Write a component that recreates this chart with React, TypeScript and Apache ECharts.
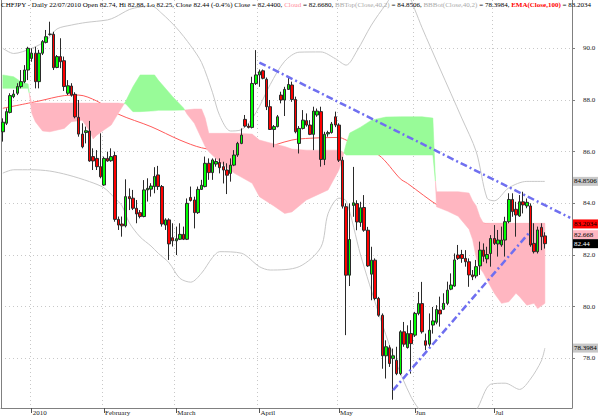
import React, { useEffect, useRef } from "react";
import * as echarts from "echarts";

// ---- calendar (trading days shown) ----
const dec09 = [21, 22, 23, 24, 28, 29, 30, 31];
const jan10 = [4, 5, 6, 7, 8, 11, 12, 13, 14, 15, 18, 19, 20, 21, 22, 25, 26, 27, 28, 29];
const feb10 = [1, 2, 3, 4, 5, 8, 9, 10, 11, 12, 15, 16, 17, 18, 19, 22, 23, 24, 25, 26];
const mar10 = [1, 2, 3, 4, 5, 8, 9, 10, 11, 12, 15, 16, 17, 18, 19, 22, 23, 24, 25, 26, 29, 30, 31];
const apr10 = [1, 2, 5, 6, 7, 8, 9, 12, 13, 14, 15, 16, 19, 20, 21, 22, 23, 26, 27, 28, 29, 30];
const may10 = [3, 4, 5, 6, 7, 10, 11, 12, 13, 14, 17, 18, 19, 20, 21, 24, 25, 26, 27, 28, 31];
const jun10 = [1, 2, 3, 4, 7, 8, 9, 10, 11, 14, 15, 16, 17, 18, 21, 22, 23, 24, 25, 28, 29, 30];
const jul10 = [1, 2, 6, 7, 8, 9, 12, 13, 14, 15, 16, 19, 20, 21, 22];
const monthKeys = ["2009-12", "2010-01", "2010-02", "2010-03", "2010-04", "2010-05", "2010-06", "2010-07"];
const monthDays = [dec09, jan10, feb10, mar10, apr10, may10, jun10, jul10];
const monthTickLabels = ["", "2010", "February", "March", "April", "May", "Jun", "Jul"];
const padSlots = 7;

// ---- candles: [open, close, low, high] ----
const ohlc: number[][] = [
  [86.77, 87.14, 86.39, 87.29], [87.10, 87.55, 87.03, 87.68], [87.52, 88.17, 87.48, 88.26], [88.13, 88.23, 88.07, 88.39],
  [88.26, 88.52, 88.19, 88.65], [88.52, 88.71, 88.45, 89.16], [88.71, 89.16, 88.65, 89.35], [89.16, 90.00, 88.77, 90.06],
  [89.61, 89.81, 89.48, 90.00], [89.81, 88.71, 88.45, 90.06], [88.71, 89.81, 88.45, 89.94], [89.81, 90.26, 89.74, 90.32],
  [90.23, 90.45, 90.19, 90.71], [90.54, 90.55, 90.49, 91.03], [90.54, 89.25, 89.16, 90.64], [89.26, 89.68, 89.23, 89.74],
  [89.68, 89.48, 89.23, 90.39], [89.52, 88.52, 88.35, 89.68], [88.26, 88.55, 88.19, 88.77], [88.54, 88.19, 88.13, 88.65],
  [88.22, 87.35, 87.29, 88.30], [87.33, 86.68, 86.58, 88.00], [86.68, 86.19, 86.13, 87.10], [86.74, 86.81, 86.32, 86.97],
  [86.80, 85.64, 85.61, 87.19], [85.81, 85.64, 85.29, 86.13], [85.74, 85.42, 85.29, 86.06], [85.42, 85.03, 84.97, 86.71],
  [84.71, 85.74, 84.68, 85.81], [85.74, 85.64, 85.61, 86.00], [85.65, 85.81, 85.61, 86.13], [85.85, 83.38, 83.29, 86.00],
  [83.38, 83.16, 82.97, 83.49], [83.20, 83.13, 82.71, 83.49], [83.13, 84.26, 83.07, 84.93], [84.26, 84.18, 83.74, 84.58],
  [84.20, 83.81, 83.74, 84.52], [83.81, 83.59, 83.23, 84.13], [83.64, 83.49, 83.42, 83.74], [83.49, 84.52, 83.46, 84.90],
  [84.52, 84.58, 84.07, 84.97], [84.55, 84.67, 84.26, 84.78], [84.65, 85.04, 84.39, 85.40], [85.10, 84.65, 84.52, 85.45],
  [84.65, 83.20, 83.10, 84.71], [83.16, 83.36, 82.97, 83.42], [83.36, 82.43, 81.81, 83.42], [82.67, 82.55, 82.33, 83.23],
  [82.55, 82.63, 82.00, 83.10], [82.61, 82.80, 82.58, 83.23], [82.80, 82.61, 82.58, 83.10], [82.61, 84.00, 82.58, 84.19],
  [84.23, 84.11, 84.07, 84.65], [84.13, 83.64, 83.03, 84.26], [83.64, 84.54, 83.59, 84.65], [84.54, 84.70, 84.52, 84.91],
  [84.65, 85.55, 84.62, 85.81], [85.55, 85.19, 84.91, 85.74], [85.19, 85.68, 84.91, 85.74], [85.52, 85.62, 85.42, 85.74],
  [85.58, 85.38, 85.16, 85.74], [85.42, 85.29, 84.77, 85.61], [85.29, 85.09, 84.36, 85.55], [85.16, 85.48, 84.84, 85.74],
  [85.48, 85.87, 85.44, 86.06], [85.87, 86.32, 85.80, 86.38], [86.32, 86.64, 86.29, 86.90], [87.25, 86.99, 86.94, 87.42],
  [86.99, 86.94, 86.90, 87.09], [86.94, 88.64, 86.90, 88.90], [88.64, 88.97, 88.58, 89.93], [88.97, 89.09, 88.51, 89.18],
  [89.13, 88.84, 88.80, 89.18], [88.80, 87.74, 87.61, 88.87], [87.74, 86.86, 86.84, 88.00], [86.86, 86.97, 86.17, 87.03],
  [86.97, 87.35, 86.94, 87.42], [88.19, 88.00, 87.87, 88.32], [88.00, 88.41, 87.38, 88.51], [88.41, 88.60, 88.39, 88.90],
  [88.58, 88.02, 87.93, 88.71], [88.02, 86.77, 86.71, 88.13], [86.32, 86.90, 85.93, 86.99], [86.90, 87.22, 86.86, 87.61],
  [87.20, 87.03, 86.97, 87.48], [87.03, 86.67, 86.64, 87.22], [86.67, 87.57, 86.06, 87.74], [87.42, 87.57, 87.35, 87.67],
  [87.55, 85.70, 85.42, 87.74], [85.70, 86.67, 85.48, 86.77], [86.69, 86.74, 86.58, 86.81], [86.74, 87.07, 86.70, 87.15],
  [87.35, 87.03, 86.95, 87.55], [87.03, 85.67, 85.60, 87.10], [85.67, 83.89, 83.80, 85.80], [83.87, 81.22, 78.90, 84.00],
  [81.22, 82.60, 80.80, 84.00], [83.92, 84.02, 83.48, 85.41], [83.99, 83.28, 82.96, 84.12], [83.26, 83.83, 83.09, 84.06],
  [83.84, 82.96, 82.90, 84.32], [82.96, 81.58, 81.54, 83.09], [81.26, 81.80, 80.25, 82.32], [81.80, 80.32, 80.25, 81.87],
  [80.32, 79.67, 79.61, 80.38], [79.67, 78.10, 77.60, 79.74], [78.10, 78.45, 77.22, 78.70], [78.41, 77.80, 77.67, 78.51],
  [78.00, 78.10, 76.40, 78.38], [77.93, 77.41, 77.35, 78.45], [77.41, 79.03, 77.35, 79.09], [79.03, 78.55, 78.45, 79.41],
  [78.42, 78.96, 78.38, 79.28], [78.96, 78.57, 77.41, 79.48], [78.90, 79.74, 78.83, 79.80], [79.74, 80.12, 79.67, 80.57],
  [80.12, 79.03, 78.96, 80.96], [78.68, 78.51, 78.32, 78.96], [78.55, 79.09, 78.45, 79.74], [79.29, 79.45, 78.96, 79.99],
  [79.40, 79.89, 79.32, 80.06], [79.87, 79.72, 79.23, 80.39], [79.90, 80.13, 79.87, 80.52], [80.13, 80.64, 80.06, 80.97],
  [80.68, 80.84, 80.64, 81.29], [80.80, 81.81, 80.77, 82.06], [82.00, 81.87, 81.81, 82.39], [82.02, 81.87, 81.70, 82.20],
  [81.87, 81.74, 81.55, 82.19], [81.74, 81.23, 80.77, 81.87], [81.23, 81.16, 81.03, 81.42], [81.19, 81.55, 81.10, 81.81],
  [81.58, 82.19, 81.23, 82.52], [82.19, 81.95, 81.74, 82.45], [81.85, 82.02, 81.68, 82.32], [82.06, 82.64, 81.55, 82.77],
  [82.64, 82.45, 82.39, 83.16], [82.43, 82.58, 81.94, 82.97], [82.39, 82.58, 82.32, 83.10], [82.58, 83.29, 81.94, 83.48],
  [83.29, 84.15, 83.23, 84.39], [84.15, 83.68, 83.48, 84.39], [83.77, 83.55, 82.71, 84.06], [83.51, 84.06, 83.48, 84.32],
  [84.06, 83.94, 83.61, 84.45], [83.90, 84.04, 83.81, 84.19], [83.90, 82.39, 82.32, 84.00], [82.45, 82.13, 82.06, 83.23],
  [82.13, 82.97, 82.06, 83.10], [83.07, 82.71, 82.19, 83.23], [82.74, 82.44, 82.25, 82.88],
];

// ---- Ichimoku cloud (span A / span B read at sample bars) ----
const cloudIdx = [0, 3, 5, 7, 8, 9, 11, 13, 17, 19, 22, 24, 25, 26, 28, 30, 32, 34, 36, 38, 42, 43, 47, 50, 51, 53, 55, 56, 57, 60, 64, 69, 71, 75, 78, 80, 84, 90, 93, 94, 95, 96, 99, 102, 106, 110, 116, 119, 120, 123, 126, 129, 130, 131, 132, 133, 134, 136, 138, 140, 142, 143, 145, 147, 148, 150];
const spanA = [88.97, 88.9, 88.71, 88.62, 87.5, 87.16, 86.8, 86.77, 86.9, 87.16, 87.22, 86.8, 86.49, 86.64, 86.84, 87.03, 87.5, 87.95, 88.51, 88.97, 88.97, 88.77, 88.13, 87.69, 87.45, 87.1, 86.5, 86.2, 86.0, 85.6, 85.17, 84.78, 84.26, 83.9, 83.61, 83.67, 84.13, 84.52, 85.29, 85.75, 86.3, 86.72, 86.95, 87.22, 87.34, 87.35, 87.35, 87.3, 83.87, 83.7, 83.5, 83.0, 82.6, 81.9, 81.5, 81.3, 81.03, 80.52, 80.13, 80.19, 80.52, 80.39, 80.06, 80.13, 79.93, 80.13];
const spanB = [88.45, 88.45, 88.45, 88.45, 87.88, 87.88, 87.88, 87.88, 87.88, 87.88, 87.88, 87.88, 87.88, 87.88, 87.88, 87.88, 87.88, 87.85, 87.55, 87.55, 87.58, 87.6, 87.6, 87.61, 87.62, 87.65, 87.65, 87.3, 86.71, 86.71, 86.71, 86.68, 86.45, 86.3, 86.2, 86.1, 86.06, 86.06, 86.06, 86.0, 85.87, 85.87, 85.87, 85.87, 85.87, 85.87, 85.87, 85.87, 84.45, 84.45, 84.45, 84.4, 84.1, 83.9, 83.48, 83.23, 83.23, 83.23, 83.23, 83.23, 83.23, 83.23, 83.23, 83.23, 83.23, 83.23];

// ---- Bollinger bands (40,2) ----
const bbUpIdx = [0, 3, 8, 12, 15, 19, 23, 29, 31, 35, 38, 41, 44, 48, 52, 55, 58, 60, 63, 66, 70, 74, 78, 82, 88, 92, 95, 98, 102, 106, 109, 112, 114, 116, 121, 127, 131, 134, 136, 140, 145, 150];
const bbUpVal = [90.0, 89.8, 90.0, 90.3, 90.75, 90.9, 91.0, 91.1, 91.2, 91.5, 91.6, 91.65, 91.35, 90.8, 90.1, 89.45, 88.3, 87.4, 86.8, 86.85, 87.5, 88.6, 89.5, 89.85, 89.86, 89.6, 89.35, 89.9, 90.9, 91.7, 92.2, 92.1, 91.5, 90.8, 89.2, 87.3, 86.0, 84.2, 84.1, 84.6, 84.85, 84.85];
const bbLoIdx = [0, 3, 8, 13, 18, 24, 28, 31, 33, 35, 38, 41, 43, 46, 49, 52, 55, 58, 60, 66, 71, 74, 82, 88, 90, 93, 95, 99, 104, 108, 113, 116, 121, 127, 131, 135, 139, 143, 146, 149, 150];
const bbLoVal = [85.17, 85.3, 85.3, 85.25, 85.1, 84.84, 84.6, 84.2, 83.9, 83.25, 82.7, 82.35, 82.07, 81.7, 81.1, 80.95, 81.3, 81.9, 82.13, 82.07, 81.55, 81.42, 81.55, 82.3, 83.6, 84.2, 84.1, 82.0, 79.75, 78.13, 76.5, 75.9, 75.3, 75.5, 76.0, 77.0, 77.04, 76.8, 77.2, 77.9, 78.4];

// ---- EMA(100) ----
const emaIdx = [0, 10, 17, 21, 26, 32, 41, 49, 55, 63, 71, 80, 85, 93, 95, 104, 110, 112, 121, 127, 133, 137, 150];
const emaVal = [87.68, 87.96, 88.17, 88.19, 87.96, 87.45, 86.97, 86.45, 86.15, 86.0, 86.1, 86.45, 86.52, 86.55, 86.45, 85.87, 84.95, 84.77, 83.87, 83.55, 83.23, 83.2, 83.2];

// ---- trend lines ----
const trendUpper = [[71, 89.45], [157, 83.44]];
const trendLower = [[108, 76.77], [146, 82.92]];

// ---- right-axis value tags ----
const tagValues = [84.8506, 83.2034, 82.668, 82.44, 78.3984];
const tagTexts = ["84.8506", "83.2034", "82.668", "82.44", "78.3984"];
const tagBg = ["#c8c8c8", "#ff0000", "#ffb6c1", "#000000", "#c8c8c8"];
const tagFg = ["#000000", "#000000", "#000000", "#ffffff", "#000000"];

const FONT = "Liberation Serif";
const GREEN_CLOUD = "#98fb98";
const PINK_CLOUD = "#ffb6c1";

function buildCategories() {
  const cats: string[] = [];
  const labelAt: Record<number, string> = {};
  monthKeys.forEach((mk, m) => {
    monthDays[m].forEach((d, j) => {
      if (j === 0 && monthTickLabels[m]) labelAt[cats.length] = monthTickLabels[m];
      cats.push(mk + "-" + String(d).padStart(2, "0"));
    });
  });
  for (let i = 0; i < padSlots; i++) cats.push("pad" + i);
  return { cats, labelAt };
}

const pairs = (idx: number[], val: number[]) => idx.map((x, i) => [x, val[i]]);

export default function App() {
  const ref = useRef<HTMLDivElement>(null);
  useEffect(() => {
    const el = ref.current!;
    const chart = echarts.init(el, null, { renderer: "svg" });
    const { cats, labelAt } = buildCategories();
    const isTick = (i: number) => labelAt[i] !== undefined;

    const cloudSeries = {
      type: "custom",
      z: 2,
      clip: true,
      silent: true,
      data: [[0, 80]],
      renderItem: (_p: any, api: any) => {
        const P = cloudIdx.map((ix, k) => {
          const pa = api.coord([ix, spanA[k]]);
          const pb = api.coord([ix, spanB[k]]);
          return { x: pa[0], ya: pa[1], yb: pb[1], d: spanA[k] - spanB[k] };
        });
        const children: any[] = [];
        let sign = P[0].d >= 0 ? 1 : -1;
        let top: number[][] = [];
        let bot: number[][] = [];
        const flush = () => {
          if (top.length >= 2) {
            children.push({
              type: "polygon",
              shape: { points: top.concat(bot.slice().reverse()) },
              style: { fill: sign > 0 ? GREEN_CLOUD : PINK_CLOUD, stroke: sign > 0 ? GREEN_CLOUD : PINK_CLOUD, lineWidth: 0.5 },
            });
          }
        };
        for (let k = 0; k < P.length; k++) {
          const p = P[k];
          top.push([p.x, Math.min(p.ya, p.yb)]);
          bot.push([p.x, Math.max(p.ya, p.yb)]);
          if (k < P.length - 1) {
            const q = P[k + 1];
            const s2 = q.d >= 0 ? 1 : -1;
            if (s2 !== sign) {
              const t = p.d / (p.d - q.d);
              const cx = p.x + t * (q.x - p.x);
              const cy = p.ya + t * (q.ya - p.ya);
              top.push([cx, cy]);
              bot.push([cx, cy]);
              flush();
              sign = s2;
              top = [[cx, cy]];
              bot = [[cx, cy]];
            }
          }
        }
        flush();
        return { type: "group", children };
      },
    };

    const title =
      "{k|CHFJPY - Daily 22/07/2010 Open 82.74, Hi 82.88, Lo 82.25, Close 82.44 (-0.4%) Close = 82.4400, }" +
      "{p|Cloud}{k| = 82.6680, }{g|BBTop(Close,40,2)}{k| = 84.8506, }{g|BBBot(Close,40,2)}{k| = 78.3984, }" +
      "{r|EMA(Close,100)}{k| = 83.2034}";

    const option: any = {
      animation: false,
      backgroundColor: "#ffffff",
      textStyle: { fontFamily: FONT },
      title: {
        text: title,
        left: 0,
        top: 0,
        padding: [1, 0, 0, 1],
        textStyle: {
          fontSize: 7,
          fontFamily: FONT,
          fontWeight: "normal",
          rich: {
            k: { color: "#000", fontSize: 7, fontFamily: FONT },
            p: { color: "#ff8a9a", fontSize: 7, fontFamily: FONT },
            g: { color: "#aaaaaa", fontSize: 7, fontFamily: FONT },
            r: { color: "#ff0000", fontSize: 7, fontFamily: FONT, fontWeight: "bold" },
          },
        },
      },
      grid: { left: 1, right: 28, top: 0, bottom: 8 },
      xAxis: {
        type: "category",
        data: cats,
        boundaryGap: true,
        axisLine: { lineStyle: { color: "#808080", width: 1 } },
        axisTick: { show: true, interval: (i: number) => isTick(i), alignWithLabel: true, length: 5, lineStyle: { color: "#555" } },
        axisLabel: {
          interval: (i: number) => isTick(i),
          formatter: (_v: string, i: number) => labelAt[i] || "",
          align: "left",
          margin: 1,
          fontSize: 7,
          fontFamily: FONT,
          color: "#222",
          padding: [0, 0, 0, 1],
        },
        splitLine: { show: true, interval: (i: number) => isTick(i), lineStyle: { color: "#c8c8c8", type: [1, 3], width: 1 } },
      },
      yAxis: [
        {
          type: "value",
          position: "right",
          min: 76.08,
          max: 91.87,
          minInterval: 2,
          maxInterval: 2,
          splitNumber: 8,
          axisLine: { show: true, lineStyle: { color: "#808080" } },
          axisTick: { show: true, length: 3, lineStyle: { color: "#808080" } },
          axisLabel: {
            showMinLabel: false,
            showMaxLabel: false,
            formatter: (v: number) => v.toFixed(1),
            margin: 11,
            fontSize: 7,
            fontFamily: FONT,
            color: "#222",
          },
          splitLine: { show: true, showMinLine: false, showMaxLine: false, lineStyle: { color: "#c8c8c8", type: [1, 3], width: 1 } },
        },
        {
          type: "value",
          position: "left",
          min: 76.08,
          max: 91.87,
          axisLine: { show: true, lineStyle: { color: "#808080" } },
          axisTick: { show: false },
          axisLabel: { show: false },
          splitLine: { show: false },
        },
      ],
      series: [
        {
          type: "line", name: "BBTop", data: pairs(bbUpIdx, bbUpVal), z: 1, symbol: "none", smooth: 0.3,
          lineStyle: { color: "#c8c8c8", width: 1 }, silent: true,
        },
        {
          type: "line", name: "BBBot", data: pairs(bbLoIdx, bbLoVal), z: 1, symbol: "none", smooth: 0.3,
          lineStyle: { color: "#c8c8c8", width: 1 }, silent: true,
        },
        {
          type: "line", name: "EMA", data: pairs(emaIdx, emaVal), z: 1, symbol: "none", smooth: 0.3,
          lineStyle: { color: "#ff5a5a", width: 1 }, silent: true,
        },
        cloudSeries,
        {
          type: "candlestick",
          z: 3,
          data: ohlc,
          barWidth: 3,
          itemStyle: {
            color: "#00ff00",
            color0: "#ff0000",
            borderColor: "#2a2a2a",
            borderColor0: "#2a2a2a",
            borderWidth: 1,
          },
          silent: true,
        },
        {
          type: "line", data: trendUpper, z: 4, symbol: "none",
          lineStyle: { color: "#6f6ff0", width: 2.5, type: [7, 3, 2, 3] }, silent: true,
        },
        {
          type: "line", data: trendLower, z: 4, symbol: "none",
          lineStyle: { color: "#6f6ff0", width: 2.5, type: [7, 3, 2, 3] }, silent: true,
        },
      ],
    };
    chart.setOption(option);

    // right-side value tags, positioned through the y axis; overlapping tags are pushed upward
    const ys = tagValues.map((v) => chart.convertToPixel({ yAxisIndex: 0 }, v) as number);
    const order = ys.map((_y, i) => i).sort((a, b) => ys[b] - ys[a]);
    const placed = ys.slice();
    for (let k = 1; k < order.length; k++) {
      const below = placed[order[k - 1]];
      if (below - placed[order[k]] < 9) placed[order[k]] = below - 9;
    }
    const xRight = chart.convertToPixel({ xAxisIndex: 0 }, cats.length - 1) as number;
    const axisX = Math.round(xRight + 3.614 / 2);
    const graphic = tagValues.map((_, i) => ({
      type: "group",
      children: [
        { type: "rect", shape: { x: axisX, y: placed[i] - 4.5, width: 26, height: 9 }, style: { fill: tagBg[i] } },
        {
          type: "text",
          x: axisX + 2,
          y: placed[i],
          style: { text: tagTexts[i], fill: tagFg[i], fontSize: 7, fontFamily: FONT, verticalAlign: "middle", align: "left" },
        },
      ],
    }));
    chart.setOption({ graphic });

    return () => chart.dispose();
  }, []);
  return <div ref={ref} style={{ position: "absolute", left: 0, top: 0, width: 600, height: 416, background: "#fff" }} />;
}
